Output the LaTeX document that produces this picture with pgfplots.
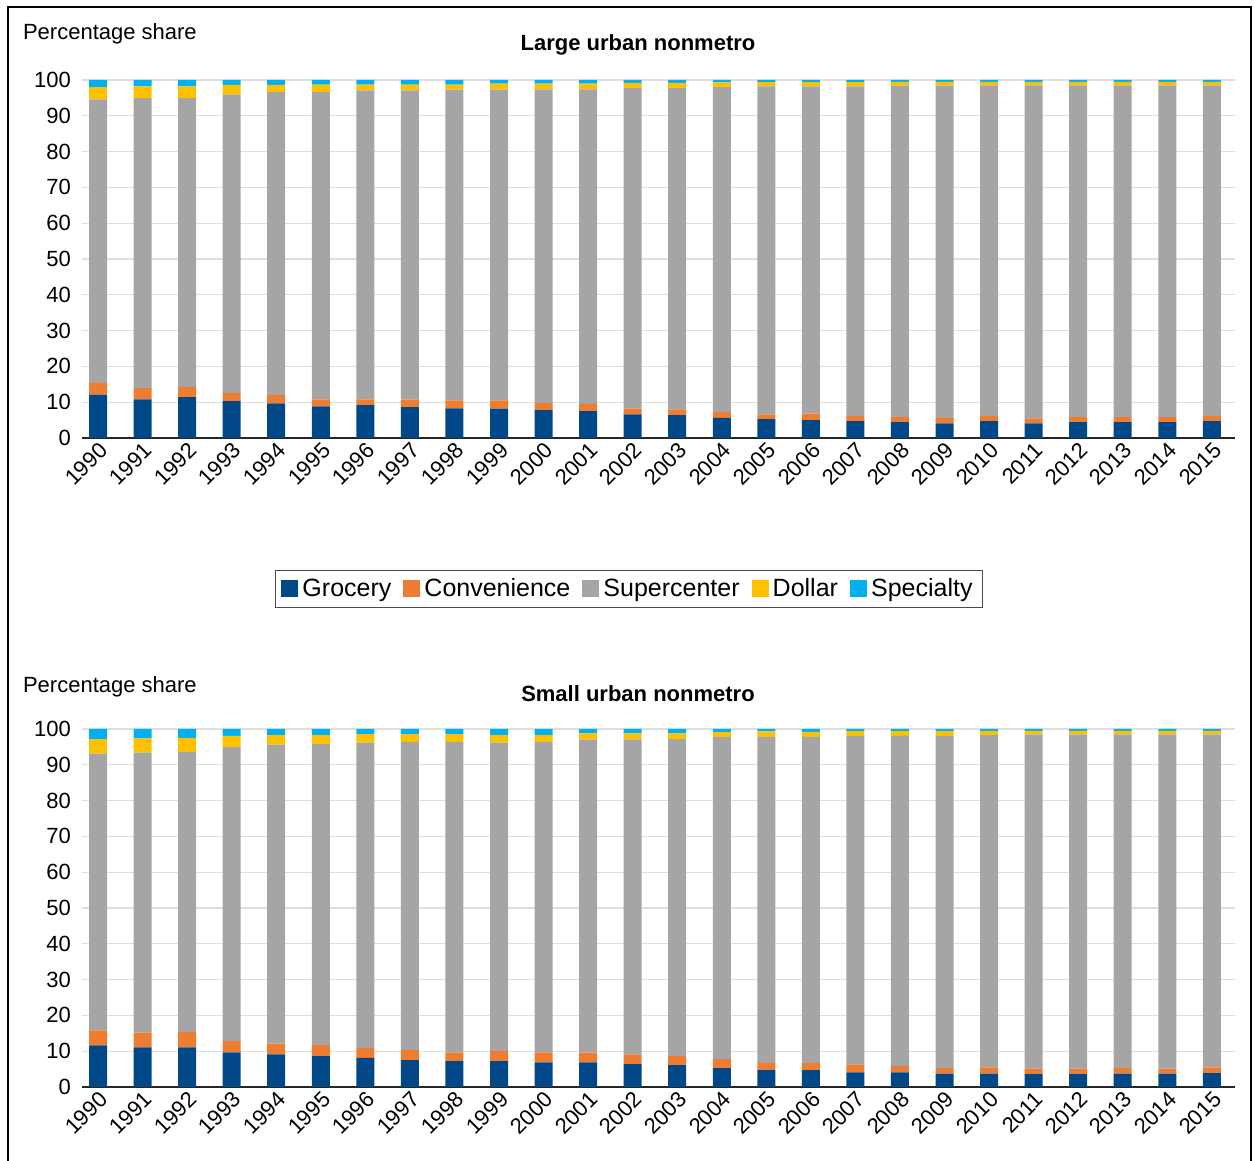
\documentclass[border=0pt]{standalone}
\usepackage{pgfplots}
\usepackage{pgfplotstable}
\pgfplotsset{compat=1.18}
\usepackage{fontspec}
\setmainfont{Liberation Sans}
\definecolor{cgro}{RGB}{0,72,135}
\definecolor{ccon}{RGB}{237,125,49}
\definecolor{csup}{RGB}{165,165,165}
\definecolor{cdol}{RGB}{255,192,0}
\definecolor{cspe}{RGB}{0,176,240}
\pgfplotstableread{
x g c s d p
0 12.1 3.2 79.3 3.4 2.0
1 10.8 3.1 81.0 3.3 1.8
2 11.4 2.9 80.6 3.3 1.8
3 10.3 2.3 83.4 2.6 1.4
4 9.7 2.3 84.6 2.0 1.4
5 8.8 2.0 85.8 2.1 1.3
6 9.2 1.6 86.3 1.6 1.3
7 8.6 2.1 86.4 1.6 1.3
8 8.3 2.2 86.8 1.4 1.3
9 8.2 2.3 86.8 1.7 1.0
10 7.8 2.0 87.6 1.6 1.0
11 7.5 2.0 87.9 1.6 1.0
12 6.6 1.7 89.4 1.5 0.8
13 6.4 1.6 89.7 1.5 0.8
14 5.6 1.7 90.7 1.3 0.7
15 5.3 1.3 91.6 1.2 0.6
16 5.0 1.8 91.4 1.2 0.6
17 4.7 1.4 92.1 1.2 0.6
18 4.4 1.4 92.6 1.1 0.5
19 4.1 1.5 92.8 1.1 0.5
20 4.7 1.4 92.4 1.0 0.5
21 4.1 1.4 93.0 1.0 0.5
22 4.4 1.4 92.7 1.0 0.5
23 4.4 1.4 92.7 1.0 0.5
24 4.4 1.4 92.7 1.0 0.5
25 4.7 1.4 92.4 1.0 0.5
}\tlarge
\pgfplotstableread{
x g c s d p
0 11.6 4.2 77.3 4.1 2.8
1 11.1 4.1 78.2 4.0 2.6
2 11.1 4.2 78.3 3.9 2.5
3 9.7 3.1 82.1 3.2 1.9
4 9.1 3.0 83.5 2.7 1.7
5 8.6 3.1 84.1 2.5 1.7
6 8.1 2.8 85.3 2.4 1.4
7 7.5 2.8 86.1 2.2 1.4
8 7.2 2.5 86.7 2.2 1.4
9 7.2 2.9 86.1 2.1 1.7
10 6.9 2.8 86.7 1.9 1.7
11 6.9 2.7 87.4 1.8 1.2
12 6.4 2.7 88.0 1.7 1.2
13 6.1 2.5 88.6 1.6 1.2
14 5.3 2.5 89.9 1.4 0.9
15 4.7 2.0 91.1 1.5 0.7
16 4.7 2.0 91.1 1.4 0.8
17 4.1 2.2 91.8 1.3 0.6
18 4.1 1.7 92.3 1.3 0.6
19 3.7 1.6 92.8 1.3 0.6
20 3.7 1.8 92.8 1.2 0.5
21 3.6 1.5 93.4 1.0 0.5
22 3.6 1.5 93.4 1.0 0.5
23 3.7 1.6 93.2 1.0 0.5
24 3.7 1.4 93.4 1.0 0.5
25 3.9 1.6 93.0 1.0 0.5
}\tsmall
\pgfplotsset{
  mystyle/.style={
    scale only axis, width=576.5pt, height=179pt,
    ybar stacked, bar width=9pt,
    xmin=-0.36, xmax=25.52, ymin=0, ymax=100,
    ytick={0,10,...,100},
    xtick={0,...,25},
    xticklabels={1990,1991,1992,1993,1994,1995,1996,1997,1998,1999,2000,2001,2002,2003,2004,2005,2006,2007,2008,2009,2010,2011,2012,2013,2014,2015},
    x tick label style={rotate=45, anchor=north east, font=\fontsize{11}{12}\selectfont, inner sep=1pt},
    y tick label style={font=\fontsize{11}{12}\selectfont, xshift=-2pt},
    /pgf/number format/assume math mode=true,
    axis x line*=bottom, axis y line*=left,
    y axis line style={draw=none},
    x axis line style={line width=1.2pt, color=black!85},
    major tick length=0pt,
    ymajorgrids, grid style={gray!25, line width=0.6pt},
    every axis plot/.append style={draw=none},
  }
}
\begin{document}
\begin{tikzpicture}
\useasboundingbox (0,0) rectangle (627.5pt,580.5pt);
\draw[line width=1pt] (4pt,0) -- (4pt,577pt) -- (625.5pt,577pt) -- (625.5pt,0);
\begin{axis}[mystyle, at={(41pt,361.5pt)}, anchor=south west,
  legend style={at={(0.4744,-0.4218)}, anchor=center, legend columns=5, draw=black!70,
    font=\fontsize{12.5}{14}\selectfont, /tikz/every even column/.append style={column sep=4pt}},
  legend image code/.code={\fill[#1] (0cm,-0.14cm) rectangle (0.3cm,0.16cm);},
  ]
\addplot[fill=cgro] table[x=x,y=g]{\tlarge};
\addplot[fill=ccon] table[x=x,y=c]{\tlarge};
\addplot[fill=csup] table[x=x,y=s]{\tlarge};
\addplot[fill=cdol] table[x=x,y=d]{\tlarge};
\addplot[fill=cspe] table[x=x,y=p]{\tlarge};
\legend{Grocery,Convenience,Supercenter,Dollar,Specialty}
\end{axis}
\node[anchor=west, font=\fontsize{11}{13}\selectfont] at (8pt,563.5pt) {Percentage share};
\node[font=\bfseries\fontsize{11}{13}\selectfont] at (319pt,558pt) {Large urban nonmetro};
\begin{axis}[mystyle, at={(41pt,37pt)}, anchor=south west]
\addplot[fill=cgro] table[x=x,y=g]{\tsmall};
\addplot[fill=ccon] table[x=x,y=c]{\tsmall};
\addplot[fill=csup] table[x=x,y=s]{\tsmall};
\addplot[fill=cdol] table[x=x,y=d]{\tsmall};
\addplot[fill=cspe] table[x=x,y=p]{\tsmall};
\end{axis}
\node[anchor=west, font=\fontsize{11}{13}\selectfont] at (8pt,237pt) {Percentage share};
\node[font=\bfseries\fontsize{11}{13}\selectfont] at (319pt,233.5pt) {Small urban nonmetro};
\end{tikzpicture}
\end{document}
